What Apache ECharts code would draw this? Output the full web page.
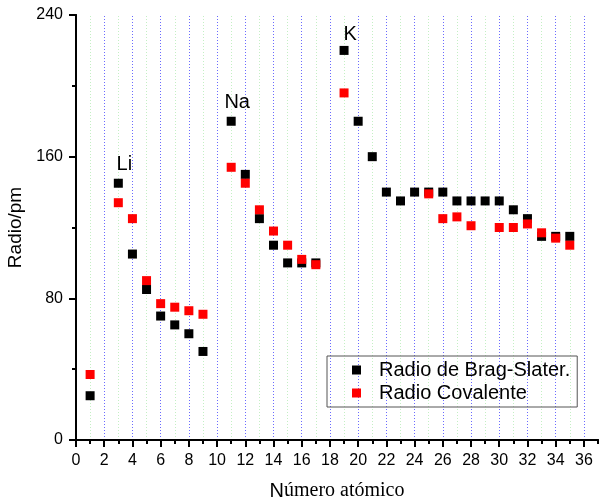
<!DOCTYPE html>
<html>
<head>
<meta charset="utf-8">
<script src="https://cdn.jsdelivr.net/npm/echarts@6/dist/echarts.min.js"></script>
<style>html,body{margin:0;padding:0;background:#fff;}#c{width:599px;height:499px;}</style>
</head>
<body>
<div id="c"></div>
<script>
// Data
var zBrag = [1, 3, 4, 5, 6, 7, 8, 9, 11, 12, 13, 14, 15, 16, 17, 19, 20, 21, 22, 23, 24, 25, 26, 27, 28, 29, 30, 31, 32, 33, 34, 35];
var rBrag = [25, 145, 105, 85, 70, 65, 60, 50, 180, 150, 125, 110, 100, 100, 100, 220, 180, 160, 140, 135, 140, 140, 140, 135, 135, 135, 135, 130, 125, 115, 115, 115];
var zCov = [1, 3, 4, 5, 6, 7, 8, 9, 11, 12, 13, 14, 15, 16, 17, 19, 25, 26, 27, 28, 30, 31, 32, 33, 34, 35];
var rCov = [37, 134, 125, 90, 77, 75, 73, 71, 154, 145, 130, 118, 110, 102, 99, 196, 139, 125, 126, 121, 120, 120, 122, 117, 114, 110];
var elemZ = [3, 11, 19];
var elemNames = ['Li', 'Na', 'K'];
var seriesNames = ['Radio de Brag-Slater.', 'Radio Covalente'];
var xMajorTicks = [0, 2, 4, 6, 8, 10, 12, 14, 16, 18, 20, 22, 24, 26, 28, 30, 32, 34, 36];
var xMinorGrid = [1, 3, 5, 7, 9, 11, 13, 15, 17, 19, 21, 23, 25, 27, 29, 31, 33, 35];
var xMajorGrid = [2, 4, 6, 8, 10, 12, 14, 16, 18, 20, 22, 24, 26, 28, 30, 32, 34, 36];

var SANS = "'Liberation Sans', Arial, sans-serif";
var SERIF = "'Liberation Serif', 'Times New Roman', serif";
var labelOffsets = [[6, 1], [6, 1], [6, 4]];

var bragData = zBrag.map(function (z, i) {
  var k = elemZ.indexOf(z);
  var item = { value: [z, rBrag[i]] };
  if (k >= 0) {
    item.label = {
      show: true, position: 'top', offset: labelOffsets[k], formatter: elemNames[k],
      fontFamily: SANS, fontSize: 20, color: '#000'
    };
  }
  return item;
});
var covData = zCov.map(function (z, i) { return [z, rCov[i]]; });

var gridLines = xMinorGrid.map(function (v) {
  return { xAxis: v, lineStyle: { color: '#c4efc4', type: [1, 2], width: 1 } };
}).concat(xMajorGrid.map(function (v) {
  return { xAxis: v, lineStyle: { color: '#6a6aff', type: [1, 2], width: 1 } };
}));

var chart = echarts.init(document.getElementById('c'), null, { renderer: 'canvas' });
var axisColor = '#000';
chart.setOption({
  animation: false,
  backgroundColor: '#fff',
  grid: { left: 76, right: 1, top: 15, bottom: 59, containLabel: false, outerBoundsMode: 'none' },
  legend: {
    orient: 'vertical', left: 327, top: 356,
    padding: [4, 7, 4, 25],
    borderColor: '#555', borderWidth: 1,
    itemWidth: 9, itemHeight: 9, itemGap: 3,
    icon: 'rect',
    data: seriesNames,
    textStyle: { fontFamily: SANS, fontSize: 20, color: '#000', padding: [0, 0, 0, 13] }
  },
  xAxis: [
    {
      type: 'value', min: 0, max: 37, interval: 1, position: 'bottom', z: 5,
      name: '{a|N}{b|úmero atómico}', nameLocation: 'middle', nameGap: 41,
      nameTextStyle: { rich: { a: { fontFamily: SANS, fontSize: 20, color: '#000' }, b: { fontFamily: SERIF, fontSize: 20, color: '#000' } } },
      axisLine: { show: true, onZero: false, lineStyle: { color: axisColor, width: 2 } },
      axisTick: { show: true, length: 4, lineStyle: { color: axisColor, width: 2 } },
      axisLabel: {
        margin: 13, fontFamily: SANS, fontSize: 16, color: '#000',
        formatter: function (v) { return xMajorTicks.indexOf(v) >= 0 ? String(v) : ''; }
      },
      splitLine: { show: false }
    },
    {
      type: 'value', min: 0, max: 37, interval: 2, position: 'bottom',
      axisLine: { show: false },
      axisTick: { show: true, length: 7, customValues: xMajorTicks, lineStyle: { color: axisColor, width: 2 } },
      axisLabel: { show: false },
      splitLine: { show: false }
    },
    {
      type: 'value', min: 0, max: 37, position: 'top',
      axisLine: { show: true, lineStyle: { color: axisColor, width: 2 } },
      axisTick: { show: false }, axisLabel: { show: false }, splitLine: { show: false }
    }
  ],
  yAxis: [
    {
      type: 'value', min: 0, max: 240, interval: 80, position: 'left',
      name: 'Radio/pm', nameLocation: 'middle', nameGap: 51,
      nameTextStyle: { fontFamily: SANS, fontSize: 19, color: '#000' },
      axisLine: { show: true, onZero: false, lineStyle: { color: axisColor, width: 2 } },
      axisTick: { show: true, length: 7, lineStyle: { color: axisColor, width: 2 } },
      minorTick: { show: true, splitNumber: 2, length: 4, lineStyle: { color: axisColor, width: 2 } },
      axisLabel: { margin: 13, fontFamily: SANS, fontSize: 16, color: '#000' },
      splitLine: { show: false }
    },
    {
      type: 'value', min: 0, max: 240, position: 'right',
      axisLine: { show: true, lineStyle: { color: axisColor, width: 2 } },
      axisTick: { show: false }, axisLabel: { show: false }, splitLine: { show: false }
    }
  ],
  series: [
    {
      name: seriesNames[0], type: 'scatter', xAxisIndex: 0, yAxisIndex: 0,
      symbol: 'rect', symbolSize: 9, itemStyle: { color: '#000', opacity: 1 },
      data: bragData,
      markLine: {
        silent: true, symbol: ['none', 'none'], label: { show: false }, animation: false,
        z: 0, data: gridLines
      }
    },
    {
      name: seriesNames[1], type: 'scatter', xAxisIndex: 0, yAxisIndex: 0,
      symbol: 'rect', symbolSize: 9, itemStyle: { color: '#ff0000', opacity: 1 },
      data: covData
    }
  ]
});
</script>
</body>
</html>
